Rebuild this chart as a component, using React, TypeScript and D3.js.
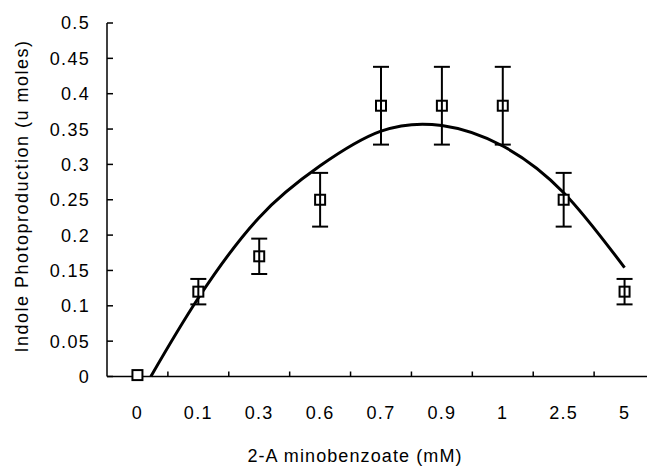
import { useMemo } from 'react';
import * as d3 from 'd3';

// concentration categories (mM)
const doses = ['0', '0.1', '0.3', '0.6', '0.7', '0.9', '1', '2.5', '5'];
// mean indole photoproduction (u moles)
const means = [0.002, 0.12, 0.17, 0.25, 0.383, 0.383, 0.383, 0.25, 0.12];
// error bar half-widths
const errs = [0, 0.018, 0.025, 0.038, 0.055, 0.055, 0.055, 0.038, 0.018];
// trendline: position in category index, value
const trendIdx = [0.22, 1, 2, 3, 4, 5, 6, 7, 8];
const trendVal = [0, 0.111, 0.225, 0.298, 0.347, 0.355, 0.326, 0.26, 0.154];

const yTicks = [0, 0.05, 0.1, 0.15, 0.2, 0.25, 0.3, 0.35, 0.4, 0.45, 0.5];
const yTickLabels = ['0', '0.05', '0.1', '0.15', '0.2', '0.25', '0.3', '0.35', '0.4', '0.45', '0.5'];

const W = 647;
const H = 466;
const FONT = '"Liberation Sans", Arial, sans-serif';

export default function App() {
    const margin = { left: 107, top: 23, right: -8, bottom: 89.5 };

    const x = useMemo(
        () =>
            d3
                .scaleBand()
                .domain(doses)
                .range([margin.left, W - margin.right])
                .paddingInner(0)
                .paddingOuter(0),
        []
    );
    const y = useMemo(() => d3.scaleLinear().domain([0, 0.5]).range([H - margin.bottom, margin.top]), []);

    const bw = x.bandwidth();
    const cx = (i: number) => (x(doses[0]) as number) + bw / 2 + i * bw;

    const trendLine = d3
        .line<number>()
        .x((d, i) => cx(trendIdx[i]))
        .y((d) => y(d))
        .curve(d3.curveNatural);

    const y0 = y(0);
    const bounds = doses.map((d) => x(d) as number);

    return (
        <svg width={W} height={H} style={{ position: 'absolute', left: 0, top: 0, background: '#fff' }}>
            {/* y axis */}
            <line x1={margin.left} x2={margin.left} y1={y(0.5)} y2={y0} stroke="#000" strokeWidth={1.5} />
            {yTicks.map((t, i) => (
                <g key={t}>
                    <line x1={margin.left} x2={margin.left + 6} y1={y(t)} y2={y(t)} stroke="#000" strokeWidth={1.5} />
                    <text
                        x={90}
                        y={y(t)}
                        dy="0.36em"
                        textAnchor="end"
                        fontFamily={FONT}
                        fontSize={18}
                        letterSpacing={1.3}
                        fill="#000"
                    >
                        {yTickLabels[i]}
                    </text>
                </g>
            ))}

            {/* x axis */}
            <line x1={margin.left} x2={W} y1={y0} y2={y0} stroke="#000" strokeWidth={1.5} />
            {bounds.slice(1).map((b) => (
                <line key={b} x1={b} x2={b} y1={y0} y2={y0 - 5} stroke="#000" strokeWidth={1.5} />
            ))}
            {doses.map((d, i) => (
                <text
                    key={d}
                    x={cx(i)}
                    y={419}
                    textAnchor="middle"
                    fontFamily={FONT}
                    fontSize={18}
                    letterSpacing={1.3}
                    fill="#000"
                >
                    {d}
                </text>
            ))}

            {/* trendline */}
            <path d={trendLine(trendVal) || ''} fill="none" stroke="#000" strokeWidth={3} />

            {/* markers + error bars */}
            {means.map((m, i) => (
                <g key={i}>
                    <rect x={cx(i) - 5} y={y(m) - 5} width={10} height={10} fill="#fff" stroke="#000" strokeWidth={2} />
                    {errs[i] > 0 && (
                        <g stroke="#000" strokeWidth={2}>
                            <line x1={cx(i)} x2={cx(i)} y1={y(m + errs[i])} y2={y(m - errs[i])} />
                            <line x1={cx(i) - 8} x2={cx(i) + 8} y1={y(m + errs[i])} y2={y(m + errs[i])} />
                            <line x1={cx(i) - 8} x2={cx(i) + 8} y1={y(m - errs[i])} y2={y(m - errs[i])} />
                        </g>
                    )}
                </g>
            ))}

            {/* axis titles */}
            <text
                x={355}
                y={462}
                textAnchor="middle"
                fontFamily={FONT}
                fontSize={18}
                letterSpacing={1.1}
                fill="#000"
            >
                2-A minobenzoate (mM)
            </text>
            <text
                transform="translate(28,196) rotate(-90)"
                textAnchor="middle"
                fontFamily={FONT}
                fontSize={18}
                letterSpacing={1.5}
                fill="#000"
            >
                Indole Photoproduction (u moles)
            </text>
        </svg>
    );
}
